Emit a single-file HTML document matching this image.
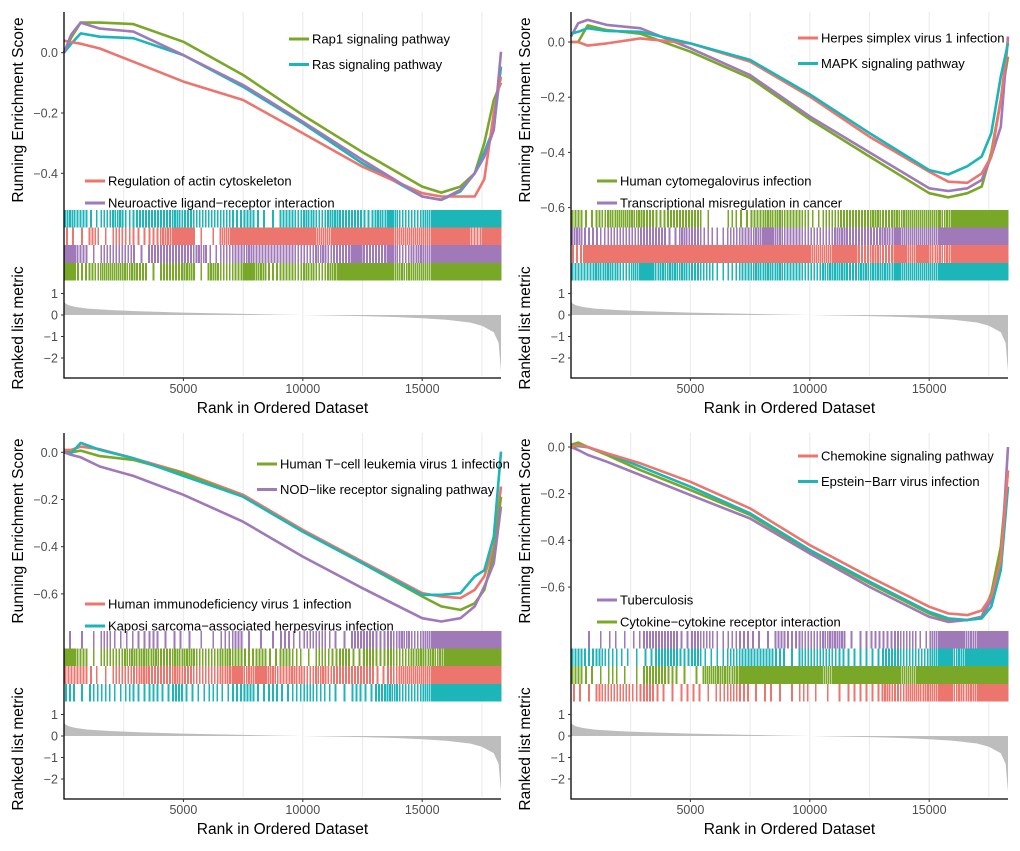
<!DOCTYPE html>
<html><head><meta charset="utf-8">
<style>
html,body{margin:0;padding:0;background:#fff;}
svg{display:block;font-family:"Liberation Sans",Arial,sans-serif;}
</style></head>
<body>
<svg id="chart" width="1020" height="851" viewBox="0 0 1020 851" xmlns="http://www.w3.org/2000/svg"></svg>
<script>
// ---- data ----
const ranks = [0, 300, 700, 1500, 2900, 5000, 7500, 10000, 12500, 15000, 15800, 16600, 17200, 17600, 18000, 18300];
const xTicks = [5000, 10000, 15000];
const gridRanks = [2500, 5000, 7500, 10000, 12500, 15000, 17500];
const metricRanks = [0, 50, 200, 500, 1000, 2000, 3000, 5000, 7500, 9000, 10000, 12500, 14000, 15000, 16000, 17000, 17500, 18000, 18200, 18300];
const metricValues = [0.65, 0.55, 0.45, 0.37, 0.3, 0.23, 0.18, 0.11, 0.05, 0.02, 0, -0.05, -0.1, -0.15, -0.22, -0.35, -0.5, -0.8, -1.3, -2.6];
const metricTicks = [1, 0, -1, -2];

// Panel 1
const p1Rap1 = [0, 0.05, 0.10, 0.10, 0.095, 0.036, -0.074, -0.207, -0.33, -0.444, -0.464, -0.444, -0.40, -0.30, -0.157, -0.10];
const p1Ras = [0, 0.03, 0.064, 0.053, 0.048, -0.008, -0.113, -0.234, -0.367, -0.477, -0.488, -0.46, -0.40, -0.33, -0.25, -0.046];
const p1Actin = [0.04, 0.035, 0.03, 0.014, -0.03, -0.096, -0.157, -0.267, -0.378, -0.466, -0.477, -0.477, -0.477, -0.42, -0.2, -0.08];
const p1Neuro = [0, 0.06, 0.10, 0.08, 0.07, -0.008, -0.107, -0.229, -0.356, -0.477, -0.488, -0.455, -0.40, -0.345, -0.256, 0.003];
// Panel 2
const p2Herpes = [0, 0, -0.013, -0.005, 0.013, -0.005, -0.071, -0.198, -0.343, -0.47, -0.506, -0.51, -0.476, -0.415, -0.21, 0.007];
const p2Mapk = [0.03, 0.037, 0.05, 0.04, 0.037, -0.005, -0.065, -0.19, -0.33, -0.464, -0.48, -0.45, -0.415, -0.33, -0.125, -0.005];
const p2Hcmv = [0, 0, 0.06, 0.043, 0.03, -0.035, -0.13, -0.28, -0.415, -0.548, -0.563, -0.548, -0.524, -0.40, -0.21, -0.053];
const p2Transc = [0.02, 0.068, 0.08, 0.062, 0.05, -0.023, -0.12, -0.27, -0.40, -0.53, -0.54, -0.53, -0.50, -0.415, -0.307, 0.02];
// Panel 3
const p3Htlv = [0, 0, 0.007, -0.016, -0.032, -0.089, -0.188, -0.336, -0.47, -0.611, -0.653, -0.668, -0.64, -0.583, -0.428, -0.188];
const p3Nod = [0, -0.011, -0.021, -0.06, -0.10, -0.18, -0.294, -0.442, -0.576, -0.703, -0.717, -0.703, -0.653, -0.569, -0.47, -0.23];
const p3Hiv = [0.01, 0.01, 0.024, 0.013, -0.025, -0.086, -0.18, -0.329, -0.463, -0.597, -0.611, -0.618, -0.583, -0.526, -0.40, -0.145];
const p3Kshv = [0, -0.004, 0.04, 0.01, -0.025, -0.10, -0.188, -0.336, -0.47, -0.604, -0.604, -0.597, -0.526, -0.50, -0.357, 0.003];
// Panel 4
const p4Chemo = [0, 0.008, 0, -0.027, -0.07, -0.149, -0.263, -0.42, -0.556, -0.684, -0.713, -0.72, -0.70, -0.64, -0.484, -0.1];
const p4Ebv = [0, 0.004, -0.001, -0.027, -0.084, -0.17, -0.284, -0.441, -0.577, -0.706, -0.734, -0.741, -0.734, -0.684, -0.527, -0.17];
const p4Tb = [0, -0.013, -0.034, -0.063, -0.12, -0.206, -0.306, -0.456, -0.599, -0.727, -0.749, -0.741, -0.727, -0.656, -0.513, 0];
const p4Cyto = [0.01, 0.019, 0, -0.034, -0.099, -0.184, -0.291, -0.449, -0.584, -0.713, -0.741, -0.741, -0.727, -0.627, -0.427, -0.1];

// rug hit densities per 500-rank bin
const rug1Cyan = [0.7,0.5,0.3,0.5,0.7,0.4,0.6,0.5,0.6,0.7,0.6,0.5,0.5,0.6,0.4,0.5,0.3,0.1,0.6,0.5,0.7,0.6,0.7,0.5,0.5,0.4,0.7,0.8,0.6,0.6,0.8,0.8,0.8,0.8,0.9,0.9,0.9];
const rug1Red = [0.3,0.1,0.5,0.2,0.5,0.4,0.3,0.4,0.7,0.9,0.9,0.2,0.1,0.9,1,0.9,0.9,0.9,1,1,1,0.9,0.9,0.9,1,1,1,0.9,0.9,0.8,0.8,0.8,0.8,0.9,0.6,0.8,0.9];
const rug1Purple = [0.8,0.5,0.2,0.5,0.6,0.6,0.2,0.6,0.5,0.5,0.6,0.7,0.3,0.5,0.6,0.7,0.6,0.6,0.5,0.5,0.5,0.7,0.6,0.6,0.8,0.6,0.6,0.8,0.5,0.7,0.8,0.8,0.9,0.9,0.9,0.9,1];
const rug1Green = [0.8,0.4,0.5,0.8,0.8,0.7,0.6,0.2,0.5,0.5,0.7,0.1,0.7,0.6,0.6,0.9,0.7,0.4,0.5,0.5,0.7,0.6,0.7,0.8,0.8,0.9,0.8,0.8,0.7,0.8,0.9,0.9,0.9,0.9,0.9,1,1];
const rug2Green = [0.6,0.3,0.6,0.7,0.8,0.7,0.5,0.4,0.6,0.5,0.5,0.1,0,0.4,0.3,0.6,0.7,0.7,0.6,0.6,0.3,0.6,0.5,0.6,0.6,0.7,0.6,0.7,0.9,0.9,0.8,0.7,0.9,0.9,1,1,1];
const rug2Purple = [0.7,0.4,0.4,0.5,0.5,0.6,0.6,0.5,0.3,0.7,0.5,0.4,0.3,0.5,0.6,0.7,0.8,0.7,0.6,0.5,0.5,0.6,0.7,0.6,0.6,0.6,0.7,0.8,0.8,0.8,0.8,0.8,0.9,0.9,1,1,1];
const rug2Red = [0.4,0.8,1,1,1,1,1,1,1,1,1,1,1,1,1,1,1,1,1,1,0.9,0.9,1,0.8,0.6,0.7,0.6,1,0.8,1,0.7,0.7,0.9,0.9,1,1,1];
const rug2Cyan = [0.5,0.6,0.7,0.7,0.6,0.8,0.8,0.7,0.7,0.7,0.6,0.6,0.3,0.4,0.6,0.7,0.7,0.7,0.6,0.6,0.6,0.7,0.7,0.6,0.7,0.7,0.7,0.8,0.8,0.9,0.8,0.8,0.9,1,1,1,1];
const rug3Purple = [0.2,0.1,0.1,0.5,0.3,0.3,0.3,0.4,0.2,0.3,0.2,0.1,0.2,0.4,0.5,0.2,0.1,0.1,0.4,0.3,0.6,0.6,0.3,0.2,0.5,0.5,0.4,0.5,0.7,0.5,0.8,0.9,0.9,0.8,0.9,0.9,1];
const rug3Green = [0.8,0.6,0.2,0.6,0.6,0.7,0.7,0.7,0.6,0.7,0.7,0.6,0.5,0.7,0.5,0.4,0.5,0.3,0.5,0.4,0.2,0.5,0.4,0.5,0.3,0.5,0.4,0.5,0.6,0.7,0.7,0.7,0.9,1,1,1,1];
const rug3Red = [0.6,0.5,0.3,0.2,0.6,0.6,0.7,0.6,0.6,0.7,0.6,0.5,0.6,0.7,0.8,0.7,0.8,0.7,0.6,0.7,0.5,0.7,0.5,0.6,0.6,0.5,0.3,0.6,0.8,0.8,0.8,0.8,0.8,0.8,0.8,0.9,1];
const rug3Cyan = [0.4,0.2,0.4,0.4,0.3,0.4,0.3,0.4,0.3,0.5,0.3,0.3,0.4,0.3,0.4,0.5,0.3,0.4,0.3,0.4,0.5,0.4,0.3,0.2,0.4,0.3,0.5,0.7,0.6,0.5,0.9,0.9,0.9,0.9,0.9,0.9,1];
const rug4Purple = [0,0.2,0.2,0.3,0.2,0.3,0.6,0.5,0.5,0.3,0.6,0.5,0.3,0.4,0.4,0.3,0.1,0.6,0.4,0.6,0.6,0.7,0.7,0.2,0.3,0.4,0.4,0.6,0.5,0.3,0.8,0.8,0.9,0.7,0.9,0.9,0.9];
const rug4Cyan = [0.6,0.4,0.5,0.4,0.3,0.2,0.3,0.6,0.6,0.4,0.5,0.3,0.3,0.6,0.5,0.6,0.6,0.4,0.1,0.6,0.5,0.6,0.4,0.3,0.3,0.3,0.5,0.6,0.5,0.5,0.9,0.9,0.7,0.9,0.9,0.9,0.9];
const rug4Green = [0.5,0.3,0.2,0.4,0.1,0.2,0.5,0.5,0.4,0.2,0.2,0.8,0.7,0.7,0.8,0.9,0.9,1,0.8,1,1,0.8,1,0.9,0.9,0.9,0.9,0.9,0.9,1,1,0.9,1,1,1,1,1];
const rug4Red = [0.3,0.1,0.5,0.5,0.6,0.4,0.5,0.3,0.2,0.3,0.3,0.2,0.4,0.5,0.4,0.2,0.3,0.1,0.2,0.4,0.2,0.2,0.2,0.3,0.3,0.3,0.7,0.6,0.8,0.7,0.8,0.8,0.7,0.7,0.8,0.8,0.9];

const RED = '#EC756D', GREEN = '#79A828', CYAN = '#1CB5B8', PURPLE = '#9F79B8';
const BIN = 500, XMAX = 18300;

const panels = [
  {id:'p1', ox:0, oy:0, left:64, right:501, y0:52.7, perTenth:30.15, esTicks:[0,-0.2,-0.4],
   series:[{n:'rap1',c:GREEN,v:p1Rap1},{n:'ras',c:CYAN,v:p1Ras},{n:'actin',c:RED,v:p1Actin},{n:'neuro',c:PURPLE,v:p1Neuro}],
   rugs:[{c:CYAN,d:rug1Cyan},{c:RED,d:rug1Red},{c:PURPLE,d:rug1Purple},{c:GREEN,d:rug1Green}],
   legUp:{x:289,y:39,items:[['Rap1 signaling pathway',GREEN],['Ras signaling pathway',CYAN]]},
   legLo:{x:85,y:181,items:[['Regulation of actin cytoskeleton',RED],['Neuroactive ligand\u2212receptor interaction',PURPLE]]}},
  {id:'p2', ox:507, oy:0, left:64, right:501, y0:42, perTenth:27.6, esTicks:[0,-0.2,-0.4,-0.6],
   series:[{n:'hcmv',c:GREEN,v:p2Hcmv},{n:'transc',c:PURPLE,v:p2Transc},{n:'herpes',c:RED,v:p2Herpes},{n:'mapk',c:CYAN,v:p2Mapk}],
   rugs:[{c:GREEN,d:rug2Green},{c:PURPLE,d:rug2Purple},{c:RED,d:rug2Red},{c:CYAN,d:rug2Cyan}],
   legUp:{x:291,y:38,items:[['Herpes simplex virus 1 infection',RED],['MAPK signaling pathway',CYAN]]},
   legLo:{x:90,y:181,items:[['Human cytomegalovirus infection',GREEN],['Transcriptional misregulation in cancer',PURPLE]]}},
  {id:'p3', ox:0, oy:421, left:64, right:501, y0:31.3, perTenth:23.6, esTicks:[0,-0.2,-0.4,-0.6],
   series:[{n:'hiv',c:RED,v:p3Hiv},{n:'htlv',c:GREEN,v:p3Htlv},{n:'kshv',c:CYAN,v:p3Kshv},{n:'nod',c:PURPLE,v:p3Nod}],
   rugs:[{c:PURPLE,d:rug3Purple},{c:GREEN,d:rug3Green},{c:RED,d:rug3Red},{c:CYAN,d:rug3Cyan}],
   legUp:{x:257,y:43,items:[['Human T\u2212cell leukemia virus 1 infection',GREEN],['NOD\u2212like receptor signaling pathway',PURPLE]]},
   legLo:{x:85,y:183,items:[['Human immunodeficiency virus 1 infection',RED],['Kaposi sarcoma\u2212associated herpesvirus infection',CYAN]]}},
  {id:'p4', ox:507, oy:421, left:64, right:501, y0:26, perTenth:23.35, esTicks:[0,-0.2,-0.4,-0.6],
   series:[{n:'cyto',c:GREEN,v:p4Cyto},{n:'tb',c:PURPLE,v:p4Tb},{n:'ebv',c:CYAN,v:p4Ebv},{n:'chemo',c:RED,v:p4Chemo}],
   rugs:[{c:PURPLE,d:rug4Purple},{c:CYAN,d:rug4Cyan},{c:GREEN,d:rug4Green},{c:RED,d:rug4Red}],
   legUp:{x:291,y:35,items:[['Chemokine signaling pathway',RED],['Epstein\u2212Barr virus infection',CYAN]]},
   legLo:{x:90,y:179,items:[['Tuberculosis',PURPLE],['Cytokine\u2212cytokine receptor interaction',GREEN]]}}
];

const NS = 'http://www.w3.org/2000/svg';
const svg = document.getElementById('chart');
function mk(tag, attrs, parent, text){
  const e = document.createElementNS(NS, tag);
  for (const k in attrs) e.setAttribute(k, attrs[k]);
  if (text !== undefined) e.textContent = text;
  parent.appendChild(e);
  return e;
}

panels.forEach(p => {
  const g = mk('g', {transform:`translate(${p.ox},${p.oy})`}, svg);
  
  
  const TOP = 12, RUG0 = 210, RUGH = 17.6, BOT = 378;
  const xs = r => p.left + (r / XMAX) * (p.right - p.left);
  const ys = v => p.y0 - v * 10 * p.perTenth;
  const ms = v => 315 - v * 21.5;

  gridRanks.forEach(r => {
    const l = mk('line', {x1:xs(r), x2:xs(r), y1:TOP, y2:BOT-2, stroke:'#ebebeb', 'stroke-width':1.1}, g);
    
    
  });

  p.rugs.forEach((rg, i) => {
    const rgG = mk('g', {'shape-rendering':'crispEdges'}, g);
    
    
    const y = RUG0 + i * RUGH;
    rg.d.forEach((d, b) => {
      const n = Math.round(d * 7);
      const bx0 = xs(b * BIN), bx1 = xs(Math.min((b+1) * BIN, XMAX));
      if (bx0 >= p.right) return;
      const w = bx1 - bx0;
      for (let k = 0; k < n; k++) {
        const tx = bx0 + (k + 0.5) * w / n - 0.9;
        const t = mk('rect', {x:tx, y:y, width:1.8, height:RUGH, fill:rg.c}, rgG);
        
        
      }
    });
  });

  p.series.forEach(s => {
    const pts = ranks.map((r, i) => xs(r).toFixed(1) + ',' + ys(s.v[i]).toFixed(1)).join(' ');
    const pl = mk('polyline', {points:pts, fill:'none', stroke:s.c, 'stroke-width':2.6, 'stroke-linejoin':'round'}, g);
    
    
  });

  let d = `M${xs(metricRanks[0])},${ms(0)}`;
  metricRanks.forEach((r, i) => { d += ` L${xs(r).toFixed(1)},${ms(metricValues[i]).toFixed(1)}`; });
  d += ` L${xs(metricRanks[metricRanks.length-1])},${ms(0)} Z`;
  const area = mk('path', {d:d, fill:'#bdbdbd', stroke:'none'}, g);
  
  

  const ax = mk('path', {d:`M${p.left},${TOP} V${BOT} H${p.right}`, fill:'none', stroke:'#000', 'stroke-width':1.3}, g);
  
  

  p.esTicks.forEach(v => {
    mk('line', {x1:p.left-3, x2:p.left, y1:ys(v), y2:ys(v), stroke:'#333', 'stroke-width':1}, g);
    const t = mk('text', {x:p.left-6, y:ys(v)+4.5, 'text-anchor':'end', 'font-size':12.5, fill:'#4d4d4d'}, g, v === 0 ? '0.0' : '\u2212' + Math.abs(v).toFixed(1));
    
    
  });
  metricTicks.forEach(v => {
    mk('line', {x1:p.left-3, x2:p.left, y1:ms(v), y2:ms(v), stroke:'#333', 'stroke-width':1}, g);
    const t = mk('text', {x:p.left-6, y:ms(v)+4.5, 'text-anchor':'end', 'font-size':12.5, fill:'#4d4d4d'}, g, v < 0 ? '\u2212' + Math.abs(v) : String(v));
    
    
  });
  xTicks.forEach(r => {
    mk('line', {x1:xs(r), x2:xs(r), y1:BOT, y2:BOT+3, stroke:'#333', 'stroke-width':1}, g);
    const t = mk('text', {x:xs(r), y:BOT+15, 'text-anchor':'middle', 'font-size':12.5, fill:'#4d4d4d'}, g, String(r));
    
    
  });

  const xt = mk('text', {x:(p.left+p.right)/2, y:BOT+35, 'text-anchor':'middle', 'font-size':15.5, fill:'#000'}, g, 'Rank in Ordered Dataset');
  
  
  const yt = mk('text', {x:0, y:0, transform:`translate(23,110) rotate(-90)`, 'text-anchor':'middle', 'font-size':15.5, fill:'#000'}, g, 'Running Enrichment Score');
  
  
  const yt2 = mk('text', {x:0, y:0, transform:`translate(23,328) rotate(-90)`, 'text-anchor':'middle', 'font-size':15.5, fill:'#000'}, g, 'Ranked list metric');
  
  

  [p.legUp, p.legLo].forEach((lg, li) => {
    const lgG = mk('g', {}, g);
    
    
    lg.items.forEach((it, k) => {
      const y = lg.y + k * (li === 0 ? 25.5 : 22);
      mk('line', {x1:lg.x, x2:lg.x+20, y1:y, y2:y, stroke:it[1], 'stroke-width':3}, lgG);
      const t = mk('text', {x:lg.x+23, y:y+4.5, 'font-size':13, fill:'#000'}, lgG, it[0]);
      
      
    });
  });
});
</script>
</body></html>
